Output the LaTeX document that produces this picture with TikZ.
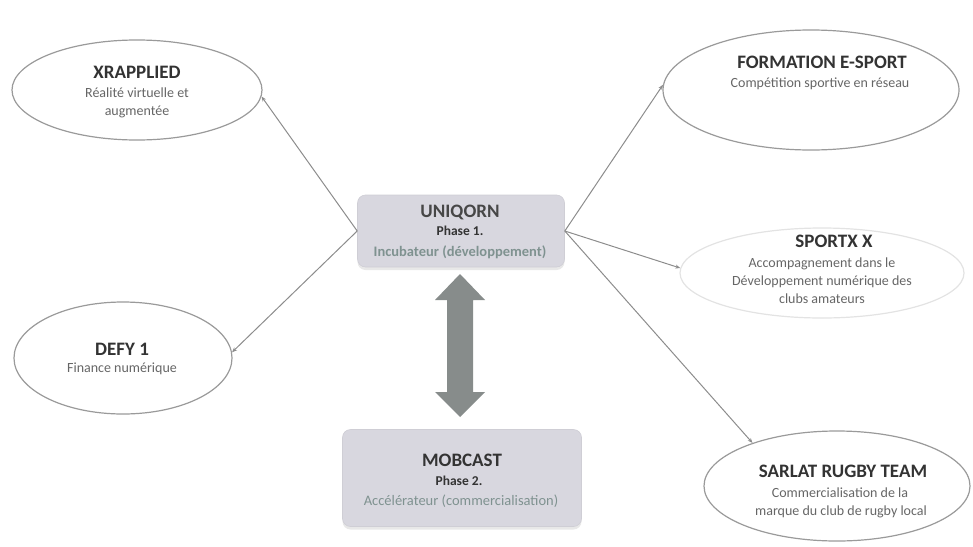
\documentclass[tikz,border=0pt]{standalone}
\usepackage{fontspec}
\setmainfont{Carlito}
\usetikzlibrary{arrows.meta,shapes.geometric,shadows}
\definecolor{ellline}{HTML}{9A9A9A}
\definecolor{faintline}{HTML}{E3E3E3}
\definecolor{conn}{HTML}{8C8C8C}
\definecolor{titlec}{HTML}{333333}
\definecolor{subc}{HTML}{666666}
\definecolor{boxfill}{HTML}{D8D7DF}
\definecolor{greentxt}{HTML}{7F9290}
\definecolor{arrowfill}{HTML}{878C8B}
\tikzset{
  oval/.style={ellipse, draw=ellline, line width=1.2pt, fill=white, inner sep=0pt},
  ovalfaint/.style={ellipse, draw=faintline, line width=1.2pt, fill=white, inner sep=0pt},
  ttl/.style={font=\fontsize{19}{21}\selectfont\bfseries, text=titlec, inner sep=0pt, anchor=base},
  sub/.style={font=\fontsize{14}{16}\selectfont, text=subc, inner sep=0pt, anchor=base},
  phase/.style={font=\fontsize{13.5}{15}\selectfont\bfseries, text=titlec, inner sep=0pt, anchor=base},
  boxsub/.style={font=\fontsize{14.5}{16}\selectfont, text=greentxt, inner sep=0pt, anchor=base},
  phasebox/.style={rectangle, rounded corners=8pt, fill=boxfill, draw=boxfill!90!gray, line width=0.6pt,
    drop shadow={opacity=0.18, shadow xshift=0pt, shadow yshift=-3pt}},
  conn/.style={draw=conn, line width=1pt, -{Stealth[length=5pt,width=4pt]}},
}
\begin{document}
\begin{tikzpicture}[x=1pt,y=-1pt]
\useasboundingbox (0,0) rectangle (973,546);
% ellipses
\node[oval, minimum width=250pt, minimum height=100pt] (xr) at (137,90) {};
\node[oval, minimum width=218pt, minimum height=112pt] (defy) at (123,358) {};
\node[oval, minimum width=296pt, minimum height=120pt] (form) at (811,90) {};
\node[ovalfaint, minimum width=284pt, minimum height=90pt] (sportx) at (822,273) {};
\node[oval, minimum width=266pt, minimum height=110pt] (sarlat) at (837,486) {};
% boxes
\node[phasebox, minimum width=207pt, minimum height=72pt] (uni) at (461,231) {};
\node[phasebox, minimum width=239pt, minimum height=97pt] (mob) at (462,478) {};
% texts
\node[ttl] (xrt) at (137,78) {XRAPPLIED};
\node[sub] (xrs1) at (137,97) {Réalité virtuelle et};
\node[sub] (xrs2) at (137,115) {augmentée};
\node[ttl] (defyt) at (122,355) {DEFY 1};
\node[sub] (defys) at (122,372) {Finance numérique};
\node[ttl] (formt) at (822,68) {FORMATION E-SPORT};
\node[sub] (forms) at (820,87) {Compétition sportive en réseau};
\node[ttl] (sportxt) at (834,247) {SPORTX X};
\node[sub] (sportxs1) at (822,267) {Accompagnement dans le};
\node[sub] (sportxs2) at (822,285) {Développement numérique des};
\node[sub] (sportxs3) at (822,303) {clubs amateurs};
\node[ttl] (sarlatt) at (843,477) {SARLAT RUGBY TEAM};
\node[sub] (sarlats1) at (840,497) {Commercialisation de la};
\node[sub] (sarlats2) at (841,515) {marque du club de rugby local};
\node[ttl, text=titlec!90] (unit) at (460,217) {UNIQORN};
\node[phase] (unip) at (460,235) {Phase 1.};
\node[boxsub, font=\fontsize{14.5}{16}\selectfont\bfseries] (unis) at (460,256) {Incubateur (développement)};
\node[ttl] (mobt) at (462,466) {MOBCAST};
\node[phase] (mobp) at (459,485) {Phase 2.};
\node[boxsub] (mobs) at (461,505) {Accélérateur (commercialisation)};
% connectors
\draw[conn] (uni.west) -- (xr.-3);
\draw[conn] (uni.west) -- (defy.3);
\draw[conn] (uni.east) -- (form.178);
\draw[conn] (uni.east) -- (sportx.178);
\draw[conn] (uni.east) -- (sarlat.153);
% double arrow
\fill[arrowfill] (460,274) -- (485,300) -- (473,300) -- (473,392) -- (485,392) -- (460,417)
  -- (435,392) -- (447,392) -- (447,300) -- (435,300) -- cycle;
\end{tikzpicture}
\end{document}
